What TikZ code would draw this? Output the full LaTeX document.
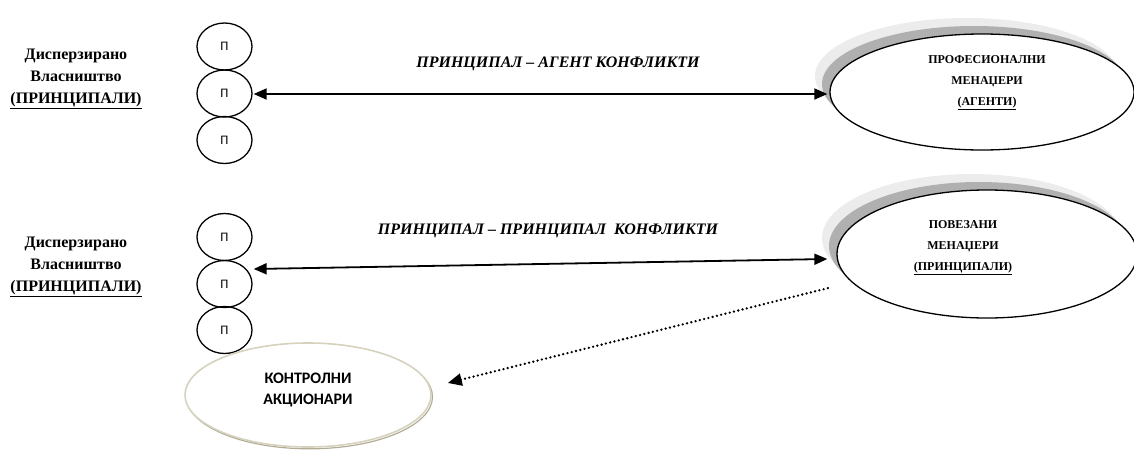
\documentclass[tikz,border=0pt]{standalone}
\usepackage{fontspec}
\setmainfont{Liberation Serif}
\newfontfamily\carlito{Carlito}
\usetikzlibrary{arrows.meta,shapes.geometric,shadows,calc}

\definecolor{shadelight}{RGB}{236,236,236}
\definecolor{shadedark}{RGB}{176,176,176}
\definecolor{beige}{RGB}{214,210,190}
\definecolor{beigedark}{RGB}{178,172,150}

\begin{document}
\begin{tikzpicture}[x=1pt,y=-1pt,
  owner/.style={ellipse, draw, line width=1.3pt, minimum width=55pt,
    minimum height=47pt, inner sep=0pt, font=\carlito\fontsize{13}{14}\selectfont},
  sidetext/.style={align=center, font=\bfseries\fontsize{16}{22}\selectfont},
  bigell/.style={ellipse, draw, fill=white, line width=1.3pt, inner sep=0pt,
    copy shadow={shadow xshift=-15pt, shadow yshift=16pt, fill=shadelight, draw=none},
    copy shadow={shadow xshift=-8pt, shadow yshift=8pt, fill=shadedark, draw=none}},
  inell/.style={align=center, font=\bfseries\fontsize{12}{21}\selectfont},
  conflict/.style={font=\bfseries\itshape\fontsize{16}{18}\selectfont},
  link/.style={line width=1.8pt, {Triangle[length=13pt,width=11pt]}-{Triangle[length=13pt,width=11pt]}},
  hint/.style={line width=2.6pt, line cap=round, dash pattern=on 0pt off 4.4pt,
    {Triangle[length=14pt,width=12pt]}-}
]
\useasboundingbox (0,0) rectangle (1134,450);

% --- upper group: dispersed owners vs. professional managers
\node[sidetext] (own1) at (76,79) {Дисперзирано\\Власништво\\\underline{(ПРИНЦИПАЛИ)}};
\node[owner] (a1) at (224.5,46.5) {П};
\node[owner] (a2) at (224.5,93.5) {П};
\node[owner] (a3) at (224.5,140) {П};

\node[bigell, minimum width=304pt, minimum height=116pt] (pm) at (982,92) {};
\node[inell] (pmtext) at (987,83) {ПРОФЕСИОНАЛНИ\\МЕНАЏЕРИ\\\underline{(АГЕНТИ)}};

\node[conflict] (pa) at (558,64) {ПРИНЦИПАЛ – АГЕНТ КОНФЛИКТИ};
\draw[link] ($(a2.east)+(1,0.5)$) -- ($(a2.east -| pm.west)+(-2,0.5)$);

% --- lower group: dispersed owners vs. related managers
\node[sidetext] (own2) at (76,267) {Дисперзирано\\Власништво\\\underline{(ПРИНЦИПАЛИ)}};
\node[owner] (b1) at (224.5,237) {П};
\node[owner] (b2) at (224.5,284) {П};
\node[owner] (b3) at (224.5,330) {П};

\node[bigell, minimum width=300pt, minimum height=128pt] (pv) at (987,254) {};
\node[inell] (pvtext) at (963,248) {ПОВЕЗАНИ\\МЕНАЏЕРИ\\\underline{(ПРИНЦИПАЛИ)}};

\node[conflict] (pp) at (548,231) {ПРИНЦИПАЛ – ПРИНЦИПАЛ\ \ КОНФЛИКТИ};
\draw[link] ($(b2.east)+(1,-15)$) -- ($(pv.west)+(-9,5)$);

% --- controlling shareholders
\node[ellipse, draw=beige, line width=1.6pt, fill=white, minimum width=246pt,
  minimum height=104pt, inner sep=0pt,
  copy shadow={shadow xshift=1.5pt, shadow yshift=-1.8pt, draw=beigedark, fill=none, line width=1.2pt}]
  (ka) at (308,395) {};
\node[align=center, font=\carlito\bfseries\fontsize{16}{21}\selectfont]
  (katext) at (308,390) {КОНТРОЛНИ\\АКЦИОНАРИ};

\draw[hint] ($(ka.east)+(16,-12)$) -- ($(pv.west)+(-8,34)$);
\end{tikzpicture}
\end{document}
